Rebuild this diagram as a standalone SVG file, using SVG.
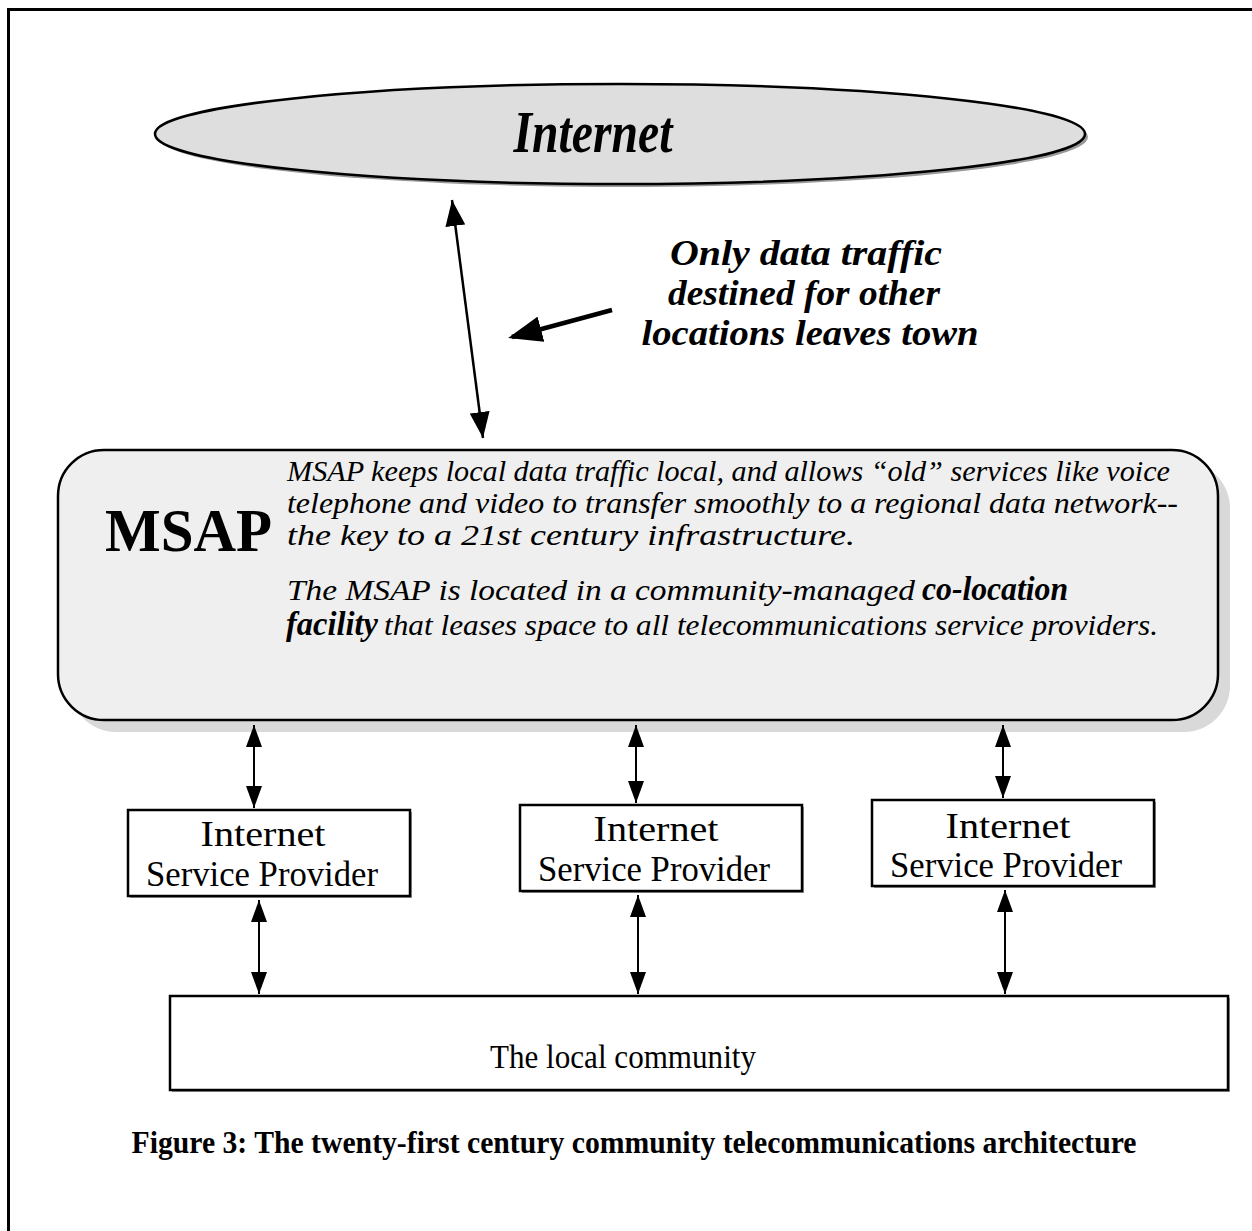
<svg xmlns="http://www.w3.org/2000/svg" width="1252" height="1231" viewBox="0 0 1252 1231">
  <style>
    .serif { font-family: "Liberation Serif", "Times New Roman", serif; fill: #000; }
    .bi { font-weight: bold; font-style: italic; }
    .it { font-style: italic; }
    .b { font-weight: bold; }
    .box { fill: #fff; stroke: #000; stroke-width: 2.5; }
    .shade { fill: #9a9a9a; }
    .link { stroke: #000; stroke-width: 2; fill: none; }
  </style>
  <defs>
    <marker id="head" markerUnits="userSpaceOnUse" markerWidth="22" markerHeight="16" refX="22" refY="8" orient="auto-start-reverse">
      <path d="M0,0 L22,8 L0,16 z" fill="#000"/>
    </marker>
    <marker id="headLong" markerUnits="userSpaceOnUse" markerWidth="26" markerHeight="20" refX="26" refY="10" orient="auto-start-reverse">
      <path d="M0,0 L26,10 L0,20 z" fill="#000"/>
    </marker>
    <marker id="headBold" markerUnits="userSpaceOnUse" markerWidth="34" markerHeight="26" refX="30" refY="13" orient="auto">
      <path d="M0,0 L34,13 L0,26 z" fill="#000"/>
    </marker>
  </defs>

  <!-- page frame (top and left rules) -->
  <path d="M8.5,1231 V9.5 H1252" fill="none" stroke="#000" stroke-width="3"/>

  <!-- Internet cloud -->
  <g id="internet">
    <ellipse cx="623" cy="137" rx="465" ry="50" class="shade"/>
    <ellipse cx="620" cy="134" rx="465" ry="50" fill="#dedede" stroke="#000" stroke-width="2.5"/>
    <text x="593" y="152" text-anchor="middle" font-size="60" class="serif bi" textLength="159" lengthAdjust="spacingAndGlyphs">Internet</text>
  </g>

  <!-- callout -->
  <g id="callout">
    <text x="806" y="265" text-anchor="middle" font-size="35" class="serif bi" textLength="272" lengthAdjust="spacingAndGlyphs">Only data traffic</text>
    <text x="804" y="305" text-anchor="middle" font-size="35" class="serif bi" textLength="272" lengthAdjust="spacingAndGlyphs">destined for other</text>
    <text x="810" y="345" text-anchor="middle" font-size="35" class="serif bi" textLength="337" lengthAdjust="spacingAndGlyphs">locations leaves town</text>
  </g>

  <!-- MSAP -->
  <g id="msap">
    <rect x="70" y="462" width="1160" height="270" rx="46" fill="#d9d9d9"/>
    <rect x="58" y="450" width="1160" height="270" rx="46" fill="#efefef" stroke="#000" stroke-width="2.5"/>
    <text x="105" y="551" font-size="62" class="serif b" textLength="167" lengthAdjust="spacingAndGlyphs">MSAP</text>
    <text x="287" y="481" font-size="29" class="serif it" textLength="883" lengthAdjust="spacingAndGlyphs">MSAP keeps local data traffic local, and allows “old” services like voice</text>
    <text x="287" y="513" font-size="29" class="serif it" textLength="891" lengthAdjust="spacingAndGlyphs">telephone and video to transfer smoothly to a regional data network--</text>
    <text x="287" y="545" font-size="29" class="serif it" textLength="568" lengthAdjust="spacingAndGlyphs">the key to a 21st century infrastructure.</text>
    <text x="287" y="600" font-size="29" class="serif it" textLength="628" lengthAdjust="spacingAndGlyphs">The MSAP is located in a community-managed</text>
    <text x="922" y="600" font-size="34" class="serif bi" textLength="146" lengthAdjust="spacingAndGlyphs">co-location</text>
    <text x="286" y="635" font-size="34" class="serif bi" textLength="92" lengthAdjust="spacingAndGlyphs">facility</text>
    <text x="384" y="635" font-size="29" class="serif it" textLength="774" lengthAdjust="spacingAndGlyphs">that leases space to all telecommunications service providers.</text>
  </g>

  <!-- service providers -->
  <g id="isp1">
    <rect x="130" y="812" width="282" height="86" class="shade"/>
    <rect x="128" y="810" width="282" height="86" class="box"/>
    <text x="263" y="846" text-anchor="middle" font-size="36" class="serif" textLength="125" lengthAdjust="spacingAndGlyphs">Internet</text>
    <text x="262" y="886" text-anchor="middle" font-size="36" class="serif" textLength="232" lengthAdjust="spacingAndGlyphs">Service Provider</text>
  </g>
  <g id="isp2">
    <rect x="522" y="807" width="282" height="86" class="shade"/>
    <rect x="520" y="805" width="282" height="86" class="box"/>
    <text x="656" y="841" text-anchor="middle" font-size="36" class="serif" textLength="125" lengthAdjust="spacingAndGlyphs">Internet</text>
    <text x="654" y="881" text-anchor="middle" font-size="36" class="serif" textLength="232" lengthAdjust="spacingAndGlyphs">Service Provider</text>
  </g>
  <g id="isp3">
    <rect x="874" y="802" width="282" height="86" class="shade"/>
    <rect x="872" y="800" width="282" height="86" class="box"/>
    <text x="1008" y="838" text-anchor="middle" font-size="36" class="serif" textLength="125" lengthAdjust="spacingAndGlyphs">Internet</text>
    <text x="1006" y="877" text-anchor="middle" font-size="36" class="serif" textLength="232" lengthAdjust="spacingAndGlyphs">Service Provider</text>
  </g>

  <!-- community -->
  <g id="community">
    <rect x="172" y="998" width="1058" height="94" class="shade"/>
    <rect x="170" y="996" width="1058" height="94" class="box"/>
    <text x="623" y="1068" text-anchor="middle" font-size="33" class="serif" textLength="266" lengthAdjust="spacingAndGlyphs">The local community</text>
  </g>

  <!-- connectors -->
  <g id="connectors">
    <line x1="452" y1="200" x2="483" y2="438" stroke="#000" stroke-width="2.5" marker-start="url(#headLong)" marker-end="url(#headLong)"/>
    <line x1="612" y1="310" x2="512" y2="337" stroke="#000" stroke-width="4.5" marker-end="url(#headBold)"/>
    <line x1="254" y1="725" x2="254" y2="808" class="link" marker-start="url(#head)" marker-end="url(#head)"/>
    <line x1="636" y1="725" x2="636" y2="803" class="link" marker-start="url(#head)" marker-end="url(#head)"/>
    <line x1="1003" y1="725" x2="1003" y2="798" class="link" marker-start="url(#head)" marker-end="url(#head)"/>
    <line x1="259" y1="900" x2="259" y2="994" class="link" marker-start="url(#head)" marker-end="url(#head)"/>
    <line x1="638" y1="895" x2="638" y2="994" class="link" marker-start="url(#head)" marker-end="url(#head)"/>
    <line x1="1005" y1="890" x2="1005" y2="994" class="link" marker-start="url(#head)" marker-end="url(#head)"/>
  </g>

  <!-- caption -->
  <text id="caption" x="634" y="1153" text-anchor="middle" font-size="31" class="serif b" textLength="1005" lengthAdjust="spacingAndGlyphs">Figure 3: The twenty-first century community telecommunications architecture</text>
</svg>
